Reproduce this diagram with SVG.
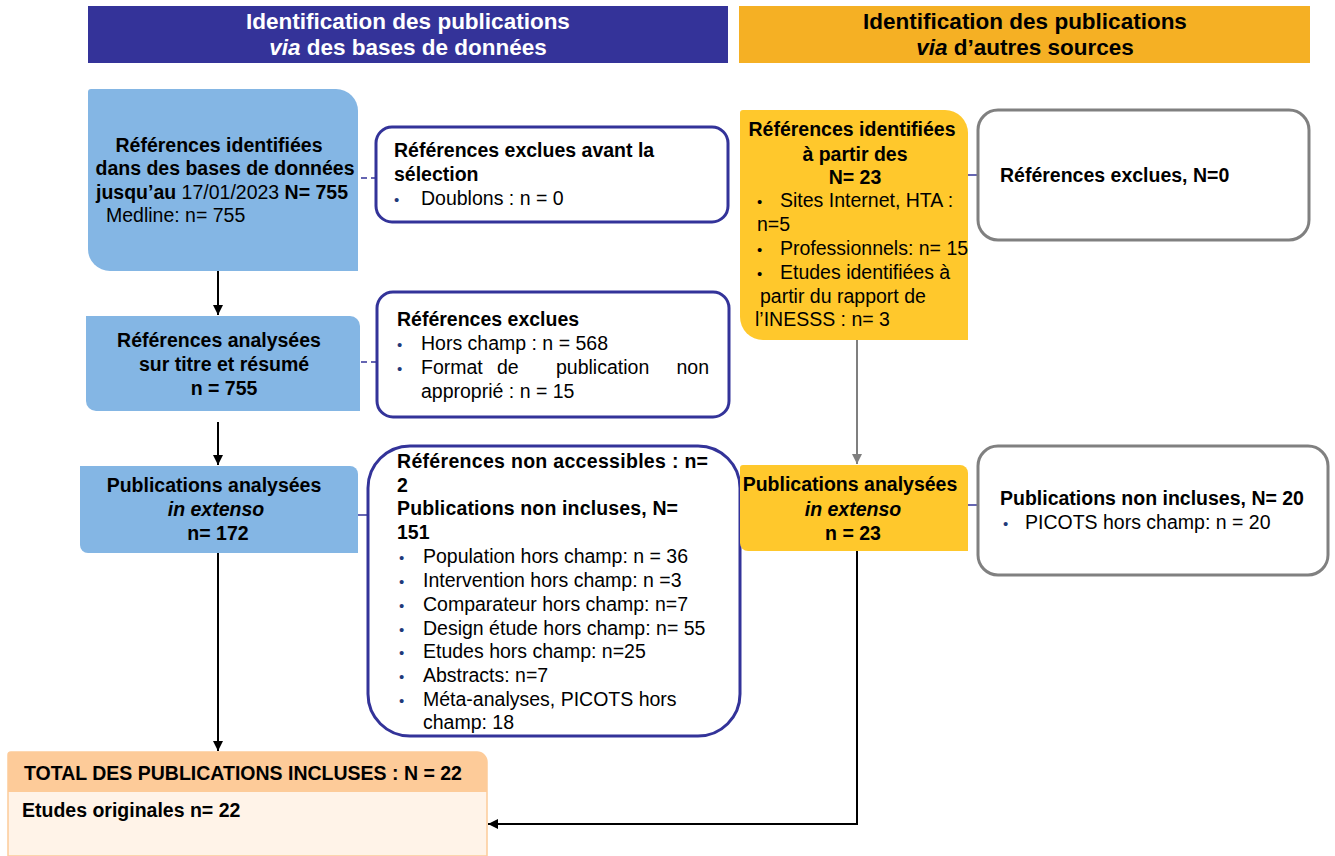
<svg xmlns="http://www.w3.org/2000/svg" width="1335" height="856" viewBox="0 0 1335 856">
<defs>
<marker id="ab" viewBox="0 0 10 10" refX="10" refY="5" markerWidth="10" markerHeight="10" markerUnits="userSpaceOnUse" orient="auto"><path d="M0,0 L10,5 L0,10 Z" fill="#000"/></marker>
<marker id="ag" viewBox="0 0 10 10" refX="10" refY="5" markerWidth="10" markerHeight="10" markerUnits="userSpaceOnUse" orient="auto"><path d="M0,0 L10,5 L0,10 Z" fill="#7f7f7f"/></marker>
</defs>
<style>
text{font-family:"Liberation Sans",Arial,sans-serif;font-size:19.5px;fill:#000}
.b{font-weight:bold}
.i{font-style:italic}
.h{font-size:22.5px;font-weight:bold}
.w{fill:#fff}
.m{text-anchor:middle}
.blue{fill:#84B6E4}
.org{fill:#FFC82C}
.nav{fill:#fff;stroke:#333399;stroke-width:3}
.gry{fill:#fff;stroke:#808080;stroke-width:3}
.bul{fill:#1F3A7A;font-size:15px}
.bk{font-size:15px}
</style>
<rect width="1335" height="856" fill="#fff"/>

<g id="header-db">
<rect x="88" y="6" width="640" height="57" fill="#343399"/>
<text class="h w m" x="408" y="29">Identification des publications</text>
<text class="h w m" x="408" y="55"><tspan class="i">via</tspan> des bases de données</text>
</g>
<g id="header-other">
<rect x="739" y="6" width="571" height="57" fill="#F5B024"/>
<text class="h m" x="1025" y="29">Identification des publications</text>
<text class="h m" x="1025" y="55"><tspan class="i">via</tspan> d’autres sources</text>
</g>

<g id="connectors" fill="none">
<line x1="218" y1="271" x2="218" y2="315" stroke="#000" stroke-width="2" marker-end="url(#ab)"/>
<line x1="218" y1="422" x2="218" y2="465" stroke="#000" stroke-width="2" marker-end="url(#ab)"/>
<line x1="218" y1="553" x2="218" y2="751" stroke="#000" stroke-width="2" marker-end="url(#ab)"/>
<line x1="857" y1="340" x2="857" y2="464" stroke="#7f7f7f" stroke-width="2" marker-end="url(#ag)"/>
<polyline points="857,551 857,824 488,824" stroke="#000" stroke-width="2" marker-end="url(#ab)"/>
<line x1="361" y1="178" x2="375" y2="178" stroke="#333399" stroke-width="1.5" stroke-dasharray="6,4"/>
<line x1="361" y1="362" x2="377" y2="362" stroke="#333399" stroke-width="1.5" stroke-dasharray="6,4"/>
<line x1="358" y1="515" x2="369" y2="515" stroke="#333399" stroke-width="1.5"/>
<line x1="968" y1="175" x2="978" y2="175" stroke="#333399" stroke-width="1.5"/>
<line x1="968" y1="505" x2="978" y2="505" stroke="#333399" stroke-width="1.5"/>
</g>

<g id="box-identified-db">
<path class="blue" d="M91 89 H336 A22 22 0 0 1 358 111 V271 H110 A22 22 0 0 1 88 249 V92 A3 3 0 0 1 91 89 Z"/>
<text class="b m" x="219" y="152">Références identifiées</text>
<text class="b m" x="225" y="175">dans des bases de données</text>
<text x="96" y="199"><tspan class="b">jusqu’au</tspan> 17/01/2023 <tspan class="b">N= 755</tspan></text>
<text x="106" y="222">Medline: n= 755</text>
</g>

<g id="box-excl-before">
<rect class="nav" x="376" y="127" width="352" height="95" rx="16"/>
<text class="b" x="394" y="157">Références exclues avant la</text>
<text class="b" x="394" y="181">sélection</text>
<text class="bul" x="394" y="205">•</text>
<text x="421" y="205">Doublons : n = 0</text>
</g>

<g id="box-analysed-title">
<path class="blue" d="M86 316 H350 A10 10 0 0 1 360 326 V411 H96 A10 10 0 0 1 86 401 Z"/>
<text class="b m" x="219" y="347">Références analysées</text>
<text class="b m" x="224" y="371">sur titre et résumé</text>
<text class="b m" x="224" y="395">n = 755</text>
</g>

<g id="box-excl-title">
<rect class="nav" x="377" y="292" width="352" height="125" rx="16"/>
<text class="b" x="397" y="326">Références exclues</text>
<text class="bul" x="397" y="350">•</text>
<text x="421" y="350">Hors champ : n = 568</text>
<text class="bul" x="397" y="374">•</text>
<text x="421" y="374">Format</text>
<text x="497" y="374">de</text>
<text x="556" y="374">publication</text>
<text x="709" y="374" text-anchor="end">non</text>
<text x="421" y="398">approprié : n = 15</text>
</g>

<g id="box-analysed-full">
<path class="blue" d="M80 466 H350 A8 8 0 0 1 358 474 V553 H88 A8 8 0 0 1 80 545 Z"/>
<text class="b m" x="214" y="492">Publications analysées</text>
<text class="b i m" x="216" y="516">in extenso</text>
<text class="b m" x="218" y="540">n= 172</text>
</g>

<g id="box-excl-full">
<rect class="nav" x="368" y="446" width="372" height="290" rx="42"/>
<text class="b" x="397" y="468" textLength="311" lengthAdjust="spacing">Références non accessibles  :  n=</text>
<text class="b" x="397" y="492">2</text>
<text class="b" x="397" y="515" textLength="281" lengthAdjust="spacing">Publications  non incluses,  N=</text>
<text class="b" x="397" y="539">151</text>
<text class="bul" x="399" y="563">•</text><text x="423" y="563">Population hors champ: n = 36</text>
<text class="bul" x="399" y="587">•</text><text x="423" y="587">Intervention  hors champ: n =3</text>
<text class="bul" x="399" y="611">•</text><text x="423" y="611">Comparateur hors champ: n=7</text>
<text class="bul" x="399" y="635">•</text><text x="423" y="635">Design étude hors champ: n= 55</text>
<text class="bul" x="399" y="658">•</text><text x="423" y="658">Etudes hors champ: n=25</text>
<text class="bul" x="399" y="682">•</text><text x="423" y="682">Abstracts: n=7</text>
<text class="bul" x="399" y="706">•</text><text x="423" y="706">Méta-analyses,  PICOTS hors</text>
<text x="423" y="729">champ: 18</text>
</g>

<g id="box-identified-other">
<path class="org" d="M743 110 H945 A23 23 0 0 1 968 133 V340 H763 A23 23 0 0 1 740 317 V113 A3 3 0 0 1 743 110 Z"/>
<text class="b m" x="852" y="136">Références identifiées</text>
<text class="b m" x="855" y="161">à partir des</text>
<text class="b m" x="855" y="184">N= 23</text>
<text class="bk" x="757" y="207">•</text><text x="780" y="207">Sites Internet,  HTA :</text>
<text x="757" y="231">n=5</text>
<text class="bk" x="757" y="255">•</text><text x="780" y="255">Professionnels: n= 15</text>
<text class="bk" x="757" y="279">•</text><text x="780" y="279">Etudes identifiées à</text>
<text x="760" y="303">partir du rapport de</text>
<text x="755" y="326">l’INESSS : n= 3</text>
</g>

<g id="box-excl-other">
<rect class="gry" x="978" y="110" width="331" height="130" rx="20"/>
<text class="b" x="1000" y="182">Références exclues,  N=0</text>
</g>

<g id="box-analysed-other">
<path class="org" d="M743 465 H960 A8 8 0 0 1 968 473 V551 H748 A8 8 0 0 1 740 543 V468 A3 3 0 0 1 743 465 Z"/>
<text class="b m" x="850" y="491">Publications  analysées</text>
<text class="b i m" x="853" y="516">in extenso</text>
<text class="b m" x="853" y="540">n = 23</text>
</g>

<g id="box-notincl-other">
<rect class="gry" x="978" y="446" width="350" height="129" rx="20"/>
<text class="b" x="1000" y="505">Publications  non incluses,  N= 20</text>
<text class="bul" x="1003" y="529">•</text>
<text x="1025" y="529">PICOTS hors champ:  n = 20</text>
</g>

<g id="box-total">
<path d="M11 752 H477 A10 10 0 0 1 487 762 V856 H8 V755 A3 3 0 0 1 11 752 Z" fill="#FFF3E8" stroke="#FDCB99" stroke-width="1.5"/>
<path d="M11 752 H477 A10 10 0 0 1 487 762 V792 H8 V755 A3 3 0 0 1 11 752 Z" fill="#FDCB99"/>
<text class="b" x="24" y="780">TOTAL DES PUBLICATIONS INCLUSES : N = 22</text>
<text class="b" x="22" y="817">Etudes originales  n= 22</text>
</g>
</svg>
